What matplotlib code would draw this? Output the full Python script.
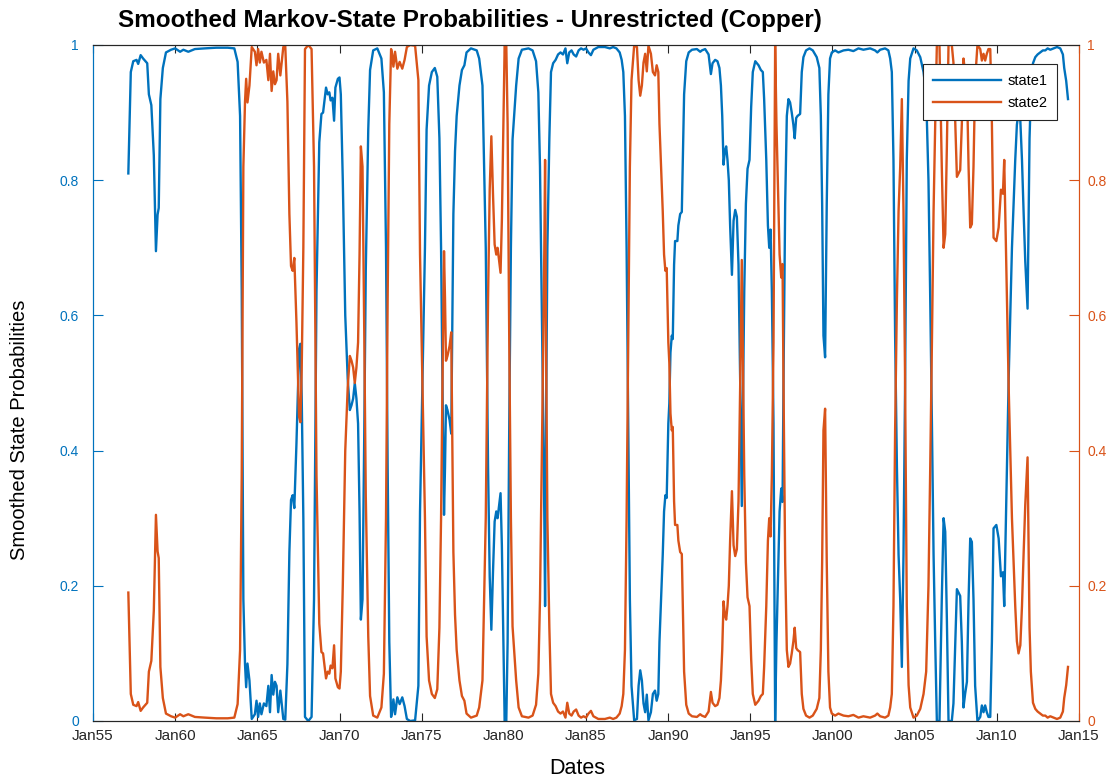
import matplotlib
matplotlib.use("Agg")
import matplotlib.pyplot as plt

# smoothed probabilities (dates as decimal years)
dates = [
    1957.15, 1957.30, 1957.45, 1957.65, 1957.75, 1957.90, 1958.05, 1958.30, 1958.40, 1958.55,
    1958.70, 1958.83, 1958.93, 1959.00, 1959.10, 1959.25, 1959.44, 1959.75, 1960.00, 1960.30,
    1960.50, 1960.80, 1961.20, 1961.80, 1962.50, 1963.20, 1963.60, 1963.80, 1963.95, 1964.05,
    1964.15, 1964.25, 1964.32, 1964.40, 1964.52, 1964.66, 1964.85, 1964.95, 1965.05, 1965.15,
    1965.25, 1965.40, 1965.55, 1965.67, 1965.77, 1965.87, 1965.97, 1966.07, 1966.17, 1966.27,
    1966.40, 1966.58, 1966.70, 1966.83, 1966.95, 1967.05, 1967.15, 1967.25, 1967.38, 1967.54,
    1967.62, 1967.70, 1967.80, 1967.90, 1968.10, 1968.30, 1968.45, 1968.60, 1968.77, 1968.90,
    1969.00, 1969.18, 1969.28, 1969.38, 1969.46, 1969.57, 1969.67, 1969.75, 1969.90, 1970.00,
    1970.08, 1970.20, 1970.35, 1970.50, 1970.63, 1970.73, 1970.83, 1970.93, 1971.03, 1971.13,
    1971.22, 1971.30, 1971.40, 1971.50, 1971.60, 1971.75, 1971.86, 1972.05, 1972.30, 1972.55,
    1972.70, 1972.83, 1972.93, 1973.03, 1973.14, 1973.20, 1973.28, 1973.38, 1973.52, 1973.66,
    1973.82, 1973.96, 1974.10, 1974.30, 1974.60, 1974.80, 1974.90, 1975.00, 1975.10, 1975.20,
    1975.30, 1975.45, 1975.62, 1975.80, 1975.95, 1976.08, 1976.18, 1976.28, 1976.36, 1976.42,
    1976.48, 1976.57, 1976.70, 1976.80, 1976.86, 1976.93, 1977.03, 1977.13, 1977.30, 1977.45,
    1977.60, 1977.73, 1978.00, 1978.35, 1978.50, 1978.70, 1978.90, 1979.04, 1979.14, 1979.24,
    1979.34, 1979.44, 1979.54, 1979.62, 1979.72, 1979.80, 1979.88, 1979.96, 1980.05, 1980.15,
    1980.23, 1980.33, 1980.43, 1980.53, 1980.75, 1980.90, 1981.10, 1981.50, 1981.75, 1981.96,
    1982.10, 1982.20, 1982.30, 1982.40, 1982.46, 1982.51, 1982.57, 1982.65, 1982.77, 1982.87,
    1983.00, 1983.15, 1983.30, 1983.45, 1983.60, 1983.75, 1983.86, 1983.98, 1984.12, 1984.25,
    1984.40, 1984.55, 1984.70, 1984.85, 1985.00, 1985.15, 1985.30, 1985.45, 1985.75, 1986.15,
    1986.45, 1986.65, 1986.85, 1987.05, 1987.17, 1987.27, 1987.37, 1987.47, 1987.57, 1987.67,
    1987.77, 1987.93, 1988.10, 1988.20, 1988.30, 1988.40, 1988.50, 1988.60, 1988.70, 1988.80,
    1988.95, 1989.07, 1989.20, 1989.30, 1989.40, 1989.47, 1989.55, 1989.67, 1989.75, 1989.83,
    1989.91, 1990.01, 1990.07, 1990.14, 1990.22, 1990.28, 1990.36, 1990.42, 1990.56, 1990.62,
    1990.73, 1990.83, 1990.89, 1990.97, 1991.10, 1991.25, 1991.45, 1991.75, 1991.95, 1992.05,
    1992.25, 1992.46, 1992.60, 1992.70, 1992.86, 1993.00, 1993.12, 1993.21, 1993.29, 1993.37,
    1993.45, 1993.53, 1993.61, 1993.69, 1993.77, 1993.88, 1993.98, 1994.08, 1994.18, 1994.28,
    1994.38, 1994.48, 1994.54, 1994.63, 1994.73, 1994.83, 1994.95, 1995.05, 1995.15, 1995.30,
    1995.40, 1995.50, 1995.64, 1995.76, 1995.84, 1995.97, 1996.07, 1996.15, 1996.23, 1996.31,
    1996.41, 1996.51, 1996.59, 1996.65, 1996.78, 1996.88, 1996.96, 1997.02, 1997.12, 1997.22,
    1997.32, 1997.42, 1997.52, 1997.62, 1997.70, 1997.79, 1997.87, 1998.03, 1998.13, 1998.23,
    1998.39, 1998.60, 1998.80, 1999.04, 1999.20, 1999.29, 1999.37, 1999.45, 1999.55, 1999.65,
    1999.75, 1999.85, 1999.96, 2000.16, 2000.36, 2000.67, 2000.97, 2001.27, 2001.58, 2001.88,
    2002.29, 2002.59, 2002.73, 2002.90, 2003.20, 2003.40, 2003.51, 2003.61, 2003.71, 2003.81,
    2003.92, 2004.02, 2004.12, 2004.22, 2004.32, 2004.42, 2004.52, 2004.63, 2004.73, 2004.93,
    2005.13, 2005.34, 2005.54, 2005.70, 2005.84, 2005.94, 2006.05, 2006.15, 2006.25, 2006.35,
    2006.51, 2006.65, 2006.76, 2006.86, 2006.96, 2007.06, 2007.26, 2007.36, 2007.47, 2007.57,
    2007.67, 2007.77, 2007.87, 2007.97, 2008.07, 2008.18, 2008.28, 2008.38, 2008.48, 2008.58,
    2008.68, 2008.82, 2008.99, 2009.09, 2009.19, 2009.29, 2009.39, 2009.49, 2009.60, 2009.70,
    2009.80, 2009.97, 2010.11, 2010.25, 2010.37, 2010.45, 2010.51, 2010.61, 2010.72, 2010.82,
    2010.92, 2011.02, 2011.12, 2011.22, 2011.32, 2011.43, 2011.53, 2011.63, 2011.73, 2011.87,
    2011.93, 2011.99, 2012.07, 2012.20, 2012.34, 2012.48, 2012.64, 2012.80, 2012.95, 2013.09,
    2013.25, 2013.45, 2013.66, 2013.86, 2014.02, 2014.10, 2014.22, 2014.33,
]

state1 = [
    0.810, 0.960, 0.976, 0.978, 0.972, 0.985, 0.980, 0.973, 0.927, 0.911,
    0.837, 0.695, 0.749, 0.759, 0.920, 0.966, 0.989, 0.993, 0.995, 0.990,
    0.993, 0.990, 0.994, 0.995, 0.996, 0.996, 0.995, 0.975, 0.895, 0.636,
    0.180, 0.084, 0.050, 0.085, 0.060, 0.003, 0.010, 0.030, 0.006, 0.026,
    0.010, 0.026, 0.022, 0.052, 0.013, 0.068, 0.039, 0.058, 0.052, 0.013,
    0.045, 0.003, 0.002, 0.084, 0.250, 0.327, 0.334, 0.315, 0.410, 0.550,
    0.558, 0.480, 0.300, 0.006, 0.000, 0.006, 0.180, 0.636, 0.856, 0.898,
    0.900, 0.937, 0.927, 0.930, 0.918, 0.922, 0.888, 0.937, 0.950, 0.952,
    0.927, 0.800, 0.600, 0.506, 0.460, 0.467, 0.477, 0.500, 0.477, 0.440,
    0.310, 0.150, 0.180, 0.410, 0.668, 0.875, 0.963, 0.992, 0.995, 0.980,
    0.930, 0.700, 0.376, 0.117, 0.006, 0.013, 0.032, 0.010, 0.035, 0.025,
    0.035, 0.022, 0.003, 0.000, 0.001, 0.052, 0.310, 0.440, 0.570, 0.700,
    0.875, 0.940, 0.960, 0.966, 0.953, 0.862, 0.700, 0.470, 0.305, 0.375,
    0.467, 0.460, 0.445, 0.425, 0.570, 0.750, 0.843, 0.895, 0.940, 0.963,
    0.970, 0.989, 0.995, 0.992, 0.980, 0.940, 0.700, 0.376, 0.214, 0.135,
    0.220, 0.295, 0.310, 0.300, 0.320, 0.337, 0.260, 0.140, 0.000, 0.000,
    0.117, 0.440, 0.700, 0.860, 0.940, 0.980, 0.993, 0.995, 0.992, 0.976,
    0.930, 0.820, 0.636, 0.440, 0.310, 0.170, 0.440, 0.700, 0.862, 0.960,
    0.973, 0.978, 0.986, 0.989, 0.986, 0.995, 0.973, 0.989, 0.992, 0.986,
    0.983, 0.992, 0.995, 0.993, 0.995, 0.989, 0.985, 0.993, 0.997, 0.997,
    0.995, 0.997, 0.995, 0.989, 0.978, 0.960, 0.895, 0.700, 0.440, 0.180,
    0.052, 0.001, 0.003, 0.052, 0.075, 0.060, 0.026, 0.013, 0.039, 0.001,
    0.013, 0.040, 0.045, 0.030, 0.040, 0.117, 0.170, 0.246, 0.310, 0.334,
    0.330, 0.440, 0.470, 0.545, 0.570, 0.565, 0.675, 0.710, 0.710, 0.733,
    0.750, 0.753, 0.830, 0.927, 0.976, 0.989, 0.993, 0.994, 0.990, 0.992,
    0.994, 0.986, 0.957, 0.973, 0.978, 0.976, 0.966, 0.940, 0.895, 0.823,
    0.843, 0.850, 0.830, 0.800, 0.733, 0.660, 0.740, 0.756, 0.746, 0.675,
    0.506, 0.318, 0.440, 0.636, 0.765, 0.817, 0.830, 0.908, 0.960, 0.976,
    0.973, 0.970, 0.963, 0.960, 0.920, 0.830, 0.733, 0.700, 0.727, 0.636,
    0.440, 0.000, 0.117, 0.180, 0.310, 0.344, 0.324, 0.506, 0.765, 0.895,
    0.920, 0.915, 0.900, 0.882, 0.862, 0.892, 0.895, 0.898, 0.960, 0.982,
    0.992, 0.995, 0.992, 0.982, 0.966, 0.895, 0.765, 0.570, 0.538, 0.765,
    0.927, 0.980, 0.989, 0.992, 0.989, 0.992, 0.993, 0.991, 0.995, 0.993,
    0.995, 0.992, 0.989, 0.993, 0.995, 0.992, 0.980, 0.960, 0.830, 0.570,
    0.376, 0.246, 0.180, 0.080, 0.246, 0.506, 0.830, 0.947, 0.980, 0.995,
    0.992, 0.982, 0.960, 0.927, 0.800, 0.636, 0.440, 0.246, 0.117, 0.000,
    0.000, 0.180, 0.300, 0.280, 0.150, 0.000, 0.000, 0.026, 0.117, 0.195,
    0.190, 0.185, 0.117, 0.020, 0.040, 0.058, 0.180, 0.270, 0.265, 0.180,
    0.052, 0.000, 0.006, 0.023, 0.013, 0.023, 0.013, 0.006, 0.006, 0.117,
    0.285, 0.290, 0.270, 0.214, 0.220, 0.170, 0.246, 0.376, 0.506, 0.603,
    0.700, 0.765, 0.830, 0.882, 0.900, 0.888, 0.830, 0.752, 0.680, 0.610,
    0.733, 0.862, 0.927, 0.973, 0.982, 0.986, 0.989, 0.992, 0.992, 0.995,
    0.993, 0.995, 0.997, 0.995, 0.986, 0.966, 0.947, 0.920,
]

state2 = [
    0.190, 0.040, 0.024, 0.022, 0.028, 0.015, 0.020, 0.027, 0.073, 0.089,
    0.163, 0.305, 0.251, 0.241, 0.080, 0.034, 0.011, 0.007, 0.005, 0.010,
    0.007, 0.010, 0.006, 0.005, 0.004, 0.004, 0.005, 0.025, 0.105, 0.364,
    0.820, 0.916, 0.950, 0.915, 0.940, 0.997, 0.990, 0.970, 0.994, 0.974,
    0.990, 0.974, 0.978, 0.948, 0.987, 0.932, 0.961, 0.942, 0.948, 0.987,
    0.955, 0.997, 0.998, 0.916, 0.750, 0.673, 0.666, 0.685, 0.590, 0.450,
    0.442, 0.520, 0.700, 0.994, 1.000, 0.994, 0.820, 0.364, 0.144, 0.102,
    0.100, 0.063, 0.073, 0.070, 0.082, 0.078, 0.112, 0.063, 0.050, 0.048,
    0.073, 0.200, 0.400, 0.494, 0.540, 0.533, 0.523, 0.500, 0.523, 0.560,
    0.690, 0.850, 0.820, 0.590, 0.332, 0.125, 0.037, 0.008, 0.005, 0.020,
    0.070, 0.300, 0.624, 0.883, 0.994, 0.987, 0.968, 0.990, 0.965, 0.975,
    0.965, 0.978, 0.997, 1.000, 0.999, 0.948, 0.690, 0.560, 0.430, 0.300,
    0.125, 0.060, 0.040, 0.034, 0.047, 0.138, 0.300, 0.530, 0.695, 0.625,
    0.533, 0.540, 0.555, 0.575, 0.430, 0.250, 0.157, 0.105, 0.060, 0.037,
    0.030, 0.011, 0.005, 0.008, 0.020, 0.060, 0.300, 0.624, 0.786, 0.865,
    0.780, 0.705, 0.690, 0.700, 0.680, 0.663, 0.740, 0.860, 1.000, 1.000,
    0.883, 0.560, 0.300, 0.140, 0.060, 0.020, 0.007, 0.005, 0.008, 0.024,
    0.070, 0.180, 0.364, 0.560, 0.690, 0.830, 0.560, 0.300, 0.138, 0.040,
    0.027, 0.022, 0.014, 0.011, 0.014, 0.005, 0.027, 0.011, 0.008, 0.014,
    0.017, 0.008, 0.005, 0.007, 0.005, 0.011, 0.015, 0.007, 0.003, 0.003,
    0.005, 0.003, 0.005, 0.011, 0.022, 0.040, 0.105, 0.300, 0.560, 0.820,
    0.948, 0.999, 0.997, 0.948, 0.925, 0.940, 0.974, 0.987, 0.961, 0.999,
    0.987, 0.960, 0.955, 0.970, 0.960, 0.883, 0.830, 0.754, 0.690, 0.666,
    0.670, 0.560, 0.530, 0.455, 0.430, 0.435, 0.325, 0.290, 0.290, 0.267,
    0.250, 0.247, 0.170, 0.073, 0.024, 0.011, 0.007, 0.006, 0.010, 0.008,
    0.006, 0.014, 0.043, 0.027, 0.022, 0.024, 0.034, 0.060, 0.105, 0.177,
    0.157, 0.150, 0.170, 0.200, 0.267, 0.340, 0.260, 0.244, 0.254, 0.325,
    0.494, 0.682, 0.560, 0.364, 0.235, 0.183, 0.170, 0.092, 0.040, 0.024,
    0.027, 0.030, 0.037, 0.040, 0.080, 0.170, 0.267, 0.300, 0.273, 0.364,
    0.560, 1.000, 0.883, 0.820, 0.690, 0.656, 0.676, 0.494, 0.235, 0.105,
    0.080, 0.085, 0.100, 0.118, 0.138, 0.108, 0.105, 0.102, 0.040, 0.018,
    0.008, 0.005, 0.008, 0.018, 0.034, 0.105, 0.235, 0.430, 0.462, 0.235,
    0.073, 0.020, 0.011, 0.008, 0.011, 0.008, 0.007, 0.009, 0.005, 0.007,
    0.005, 0.008, 0.011, 0.007, 0.005, 0.008, 0.020, 0.040, 0.170, 0.430,
    0.624, 0.754, 0.820, 0.920, 0.754, 0.494, 0.170, 0.053, 0.020, 0.005,
    0.008, 0.018, 0.040, 0.073, 0.200, 0.364, 0.560, 0.754, 0.883, 1.000,
    1.000, 0.820, 0.700, 0.720, 0.850, 1.000, 1.000, 0.974, 0.883, 0.805,
    0.810, 0.815, 0.883, 0.980, 0.960, 0.942, 0.820, 0.730, 0.735, 0.820,
    0.948, 1.000, 0.994, 0.977, 0.987, 0.977, 0.987, 0.994, 0.994, 0.883,
    0.715, 0.710, 0.730, 0.786, 0.780, 0.830, 0.754, 0.624, 0.494, 0.397,
    0.300, 0.235, 0.170, 0.118, 0.100, 0.112, 0.170, 0.248, 0.320, 0.390,
    0.267, 0.138, 0.073, 0.027, 0.018, 0.014, 0.011, 0.008, 0.008, 0.005,
    0.007, 0.005, 0.003, 0.005, 0.014, 0.034, 0.053, 0.080,
]

year_ticks = [1955, 1960, 1965, 1970, 1975, 1980, 1985, 1990, 1995, 2000, 2005, 2010, 2015]
year_labels = ["Jan55", "Jan60", "Jan65", "Jan70", "Jan75", "Jan80", "Jan85",
               "Jan90", "Jan95", "Jan00", "Jan05", "Jan10", "Jan15"]
prob_ticks = [0, 0.2, 0.4, 0.6, 0.8, 1]
prob_labels = ["0", "0.2", "0.4", "0.6", "0.8", "1"]

blue = "#0072BD"
orange = "#D95319"
dark = "#262626"

plt.rcParams["font.family"] = ["Liberation Sans", "DejaVu Sans"]

W, H = 1116, 783
fig = plt.figure(figsize=(W / 100, H / 100), dpi=100)
ax = fig.add_axes([93 / W, 1 - 721 / H, 986 / W, 676 / H])
ax2 = ax.twinx()

line1, = ax.plot(dates, state1, color=blue, lw=1.7, label="state1")
line2, = ax2.plot(dates, state2, color=orange, lw=1.7, label="state2")

ax.set_xlim(1955, 2015)
ax.set_ylim(0, 1)
ax2.set_ylim(0, 1)
ax.set_xticks(year_ticks)
ax.set_xticklabels(year_labels)
ax.set_yticks(prob_ticks)
ax.set_yticklabels(prob_labels)
ax2.set_yticks(prob_ticks)
ax2.set_yticklabels(prob_labels)

for a in (ax, ax2):
    a.spines["top"].set_color(dark)
    a.spines["bottom"].set_color(dark)
    a.spines["left"].set_color(blue)
    a.spines["right"].set_color(orange)

ax.tick_params(axis="x", direction="in", top=True, length=6, color=dark,
               labelcolor=dark, labelsize=11, pad=6)
ax.tick_params(axis="y", direction="in", length=7, color=blue,
               labelcolor=blue, labelsize=10, pad=10)
ax2.tick_params(axis="y", direction="in", length=7, color=orange,
                labelcolor=orange, labelsize=10, pad=6)

leg = ax2.legend(handles=[line1, line2], loc="upper right",
                 bbox_to_anchor=(0.978, 0.972), borderaxespad=0,
                 fancybox=False, framealpha=1, edgecolor=dark,
                 fontsize=10.5, handlelength=4.6, handletextpad=0.45,
                 labelspacing=0.55, borderpad=0.7)
leg.get_frame().set_linewidth(0.8)

fig.text(118 / W, 1 - 20 / H, "Smoothed Markov-State Probabilities - Unrestricted (Copper)",
         fontsize=17.5, fontweight="bold", ha="left", va="center", color="black")
fig.text(20 / W, 1 - 430 / H, "Smoothed State Probabilities", rotation=90,
         fontsize=14.5, ha="center", va="center", color="black")
fig.text(577 / W, 1 - 768 / H, "Dates", fontsize=15.5, ha="center", va="center", color="black")

fig.savefig("out.png", dpi=100)
